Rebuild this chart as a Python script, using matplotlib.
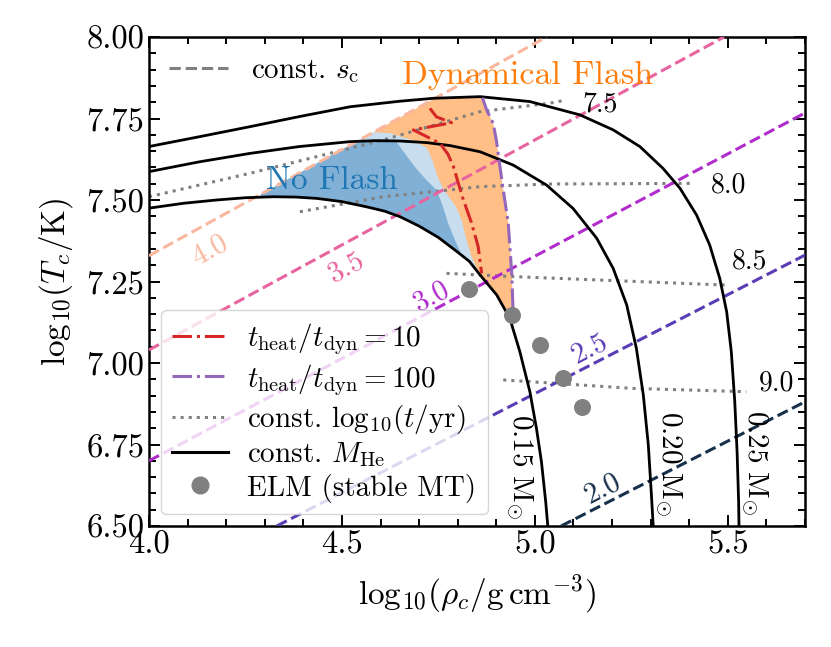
import numpy as np
import matplotlib
matplotlib.use("Agg")
import matplotlib.pyplot as plt
from matplotlib.lines import Line2D
from matplotlib.ticker import MultipleLocator, FormatStrFormatter

plt.rcParams['font.family'] = 'serif'
plt.rcParams['font.serif'] = ['cmr10']
plt.rcParams['mathtext.fontset'] = 'cm'
plt.rcParams['axes.formatter.use_mathtext'] = True

# ---------------- data ----------------
# constant He-core-mass tracks
m015_x = [4.0, 4.09, 4.175, 4.25, 4.322, 4.38, 4.434, 4.5, 4.564, 4.61, 4.65, 4.70, 4.75, 4.80, 4.83,
          4.858, 4.901, 4.935, 4.961, 4.987, 5.004, 5.017, 5.028, 5.034]
m015_y = [7.475, 7.49, 7.50, 7.507, 7.51, 7.509, 7.505, 7.495, 7.479, 7.466, 7.449, 7.42, 7.385, 7.34, 7.312,
          7.27, 7.209, 7.137, 7.035, 6.912, 6.80, 6.697, 6.575, 6.493]
m020_x = [4.0, 4.13, 4.262, 4.39, 4.521, 4.585, 4.65, 4.72, 4.78, 4.858, 4.944, 5.03, 5.099, 5.16, 5.203,
          5.238, 5.263, 5.281, 5.294, 5.302, 5.307]
m020_y = [7.587, 7.617, 7.643, 7.664, 7.679, 7.682, 7.681, 7.676, 7.667, 7.648, 7.607, 7.546, 7.474, 7.383, 7.29,
          7.178, 7.045, 6.902, 6.748, 6.595, 6.493]
m025_x = [4.0, 4.13, 4.262, 4.39, 4.521, 4.65, 4.737, 4.858, 4.987, 5.117, 5.203, 5.272, 5.332, 5.376, 5.419,
          5.453, 5.479, 5.497, 5.509, 5.518, 5.524, 5.528, 5.529]
m025_y = [7.664, 7.694, 7.725, 7.756, 7.786, 7.803, 7.812, 7.817, 7.802, 7.761, 7.715, 7.664, 7.597, 7.536, 7.454,
          7.362, 7.26, 7.157, 7.035, 6.881, 6.728, 6.575, 6.493]
mass_labels = ['0.15', '0.20', '0.25']
mass_label_x = [4.959, 5.345, 5.567]
mass_label_y = [6.682, 6.692, 6.696]

# constant log10(t/yr) lines
t75_x = [4.0, 4.262, 4.607, 4.858, 5.039, 5.082]
t75_y = [7.51, 7.582, 7.684, 7.771, 7.797, 7.807]
t80_x = [4.391, 4.607, 4.78, 4.858, 5.039, 5.402]
t80_y = [7.464, 7.51, 7.531, 7.541, 7.549, 7.551]
t85_x = [4.771, 4.858, 4.944, 5.497]
t85_y = [7.275, 7.27, 7.265, 7.239]
t90_x = [4.918, 5.255, 5.548]
t90_y = [6.948, 6.922, 6.912]
t_labels = ['7.5', '8.0', '8.5', '9.0']
t_label_x = [5.168, 5.501, 5.557, 5.626]
t_label_y = [7.794, 7.546, 7.311, 6.938]

# constant central entropy lines
sc_labels = ['4.0', '3.5', '3.0', '2.5', '2.0']
sc_x0 = [4.0, 4.0, 4.0, 4.331, 5.068]
sc_y0 = [7.329, 7.04, 6.70, 6.50, 6.50]
sc_x1 = [5.03, 5.49, 5.7, 5.7, 5.7]
sc_y1 = [8.0, 8.0, 7.767, 7.331, 6.881]
sc_colors = ['#f9b89e', '#e8649f', '#b02ccc', '#5a3db5', '#17304c']
sc_label_x = [4.158, 4.512, 4.733, 5.142, 5.175]
sc_label_y = [7.347, 7.295, 7.203, 7.045, 6.616]

# heating-time contours
heat10_x = [4.728, 4.745, 4.784, 4.685, 4.754, 4.775, 4.789, 4.812, 4.836, 4.853, 4.862]
heat10_y = [7.781, 7.755, 7.737, 7.715, 7.674, 7.64, 7.602, 7.51, 7.429, 7.357, 7.275]
heat100_x = [4.864, 4.875, 4.892, 4.900, 4.907, 4.918, 4.931, 4.940, 4.944]
heat100_y = [7.814, 7.776, 7.735, 7.684, 7.623, 7.531, 7.429, 7.275, 7.142]

# region boundaries
nof_edge_x = [4.814, 4.793, 4.775, 4.762, 4.745, 4.72, 4.69, 4.665, 4.642]
nof_edge_y = [7.321, 7.377, 7.429, 7.479, 7.531, 7.56, 7.60, 7.64, 7.677]
flash_edge_x = [4.857, 4.836, 4.823, 4.81, 4.795, 4.765, 4.748, 4.735, 4.72, 4.69, 4.625, 4.58]
flash_edge_y = [7.27, 7.326, 7.377, 7.44, 7.48, 7.53, 7.571, 7.62, 7.66, 7.68, 7.705, 7.708]
x_sc4_m015 = 4.29      # s_c = 4.0 line meets 0.15 track
x_sc4_m020 = 4.547     # s_c = 4.0 line meets 0.20 track
x_sc4_m025 = 4.743     # s_c = 4.0 line meets 0.25 track

# ELM white dwarfs
elm_x = [4.83, 4.94, 5.013, 5.073, 5.121]
elm_y = [7.227, 7.147, 7.055, 6.953, 6.866]

# ---------------- figure ----------------
fig = plt.figure(figsize=(8.31, 6.47), dpi=100)
ax = fig.add_axes([149/831, 1-526/647, 656/831, 489/647])


def sc4(x):
    return sc_y0[0] + (sc_y1[0]-sc_y0[0])/(sc_x1[0]-sc_x0[0])*(np.asarray(x)-sc_x0[0])


def track(xs, ys, xq):
    return np.interp(xq, xs, ys)


# dark blue "No Flash" region
xa = np.linspace(x_sc4_m015, x_sc4_m020, 20)
xb = np.linspace(x_sc4_m020, nof_edge_x[-1], 10)
xc = np.linspace(nof_edge_x[0], x_sc4_m015, 40)
dx = np.concatenate([xa, xb, nof_edge_x[::-1], xc])
dy = np.concatenate([sc4(xa), track(m020_x, m020_y, xb), nof_edge_y[::-1], track(m015_x, m015_y, xc)])

# full region (light blue base)
xt = np.linspace(x_sc4_m025, heat100_x[0], 10)
xl = np.linspace(heat100_x[-1], x_sc4_m015, 60)
xu = np.linspace(x_sc4_m015, x_sc4_m025, 30)
bx = np.concatenate([xu, xt, heat100_x, xl])
by = np.concatenate([sc4(xu), track(m025_x, m025_y, xt), heat100_y, track(m015_x, m015_y, xl)])

# orange "Dynamical Flash" region
xl2 = np.linspace(heat100_x[-1], flash_edge_x[0], 20)
xu2 = np.linspace(flash_edge_x[-1], x_sc4_m025, 10)
ox = np.concatenate([xt, heat100_x, xl2, flash_edge_x, xu2])
oy = np.concatenate([track(m025_x, m025_y, xt), heat100_y, track(m015_x, m015_y, xl2), flash_edge_y, sc4(xu2)])

ax.fill(bx, by, color='#c8ddee', lw=0, zorder=1)
ax.fill(ox, oy, color='#ffbf86', lw=0, zorder=1.1)
ax.fill(dx, dy, color='#80b0d5', lw=0, zorder=1.2)

ax.set_xlim(4.0, 5.7)
ax.set_ylim(6.5, 8.0)

# time lines
for xs, ys in [(t75_x, t75_y), (t80_x, t80_y), (t85_x, t85_y), (t90_x, t90_y)]:
    ax.plot(xs, ys, ls=':', color='gray', lw=2.2, zorder=2)
for s, x, y in zip(t_labels, t_label_x, t_label_y):
    ax.text(x, y, s, fontsize=20, ha='center', va='center', zorder=5)

# s_c lines
fig.canvas.draw()
for lab, x0, y0, x1, y1, c, lx, ly in zip(sc_labels, sc_x0, sc_y0, sc_x1, sc_y1, sc_colors, sc_label_x, sc_label_y):
    ax.plot([x0, x1], [y0, y1], ls='--', color=c, lw=2.2, zorder=3)
    p0 = ax.transData.transform((x0, y0))
    p1 = ax.transData.transform((x1, y1))
    ang = np.degrees(np.arctan2(p1[1]-p0[1], p1[0]-p0[0]))
    ax.text(lx, ly, lab, color=c, fontsize=21, rotation=ang, rotation_mode='anchor',
            ha='center', va='center', zorder=5)

# mass tracks
for xs, ys in [(m015_x, m015_y), (m020_x, m020_y), (m025_x, m025_y)]:
    ax.plot(xs, ys, color='black', lw=2.0, zorder=4)
for s, x, y in zip(mass_labels, mass_label_x, mass_label_y):
    ax.text(x, y, r'$%s\ \mathrm{M}_{\odot}$' % s, fontsize=21, rotation=-90,
            ha='center', va='center', zorder=5)

# heating contours
ax.plot(heat10_x, heat10_y, ls='-.', color='#d62728', lw=2.2, zorder=4.5)
ax.plot(heat100_x, heat100_y, ls='-.', color='#9467bd', lw=2.2, zorder=4.5)

# ELMs
ax.scatter(elm_x, elm_y, s=150, color='gray', zorder=6, lw=0)

ax.text(4.474, 7.561, 'No Flash', color='#1f77b4', fontsize=24, ha='center', va='center', zorder=5)
ax.text(4.982, 7.883, 'Dynamical Flash', color='#ff7f0e', fontsize=24.5, ha='center', va='center', zorder=5)

# axes styling
ax.xaxis.set_major_locator(MultipleLocator(0.5))
ax.xaxis.set_minor_locator(MultipleLocator(0.1))
ax.yaxis.set_major_locator(MultipleLocator(0.25))
ax.yaxis.set_minor_locator(MultipleLocator(0.05))
ax.xaxis.set_major_formatter(FormatStrFormatter('%.1f'))
ax.yaxis.set_major_formatter(FormatStrFormatter('%.2f'))
ax.tick_params(which='both', direction='in', top=True, right=True, labelsize=23.5, width=1.4)
ax.tick_params(which='major', length=8)
ax.tick_params(which='minor', length=5)
for sp in ax.spines.values():
    sp.set_linewidth(1.8)
ax.set_xlabel(r'$\mathrm{log}_{10}(\rho_c/\mathrm{g\,cm^{-3}})$', fontsize=24, labelpad=9)
ax.set_ylabel(r'$\mathrm{log}_{10}(T_c/\mathrm{K})$', fontsize=24, labelpad=8)

# legends
h_sc = [Line2D([], [], ls='--', color='gray', lw=2.2)]
leg1 = ax.legend(h_sc, [r'const. $s_{\rm c}$'], loc='upper left', frameon=False, fontsize=21,
                 borderaxespad=0.3)
ax.add_artist(leg1)
handles = [
    Line2D([], [], ls='-.', color='#d62728', lw=2.2),
    Line2D([], [], ls='-.', color='#9467bd', lw=2.2),
    Line2D([], [], ls=':', color='gray', lw=2.2),
    Line2D([], [], ls='-', color='black', lw=2.2),
    Line2D([], [], ls='', marker='o', color='gray', markersize=12),
]
labels = [r'$t_{\rm heat}/t_{\rm dyn} = 10$', r'$t_{\rm heat}/t_{\rm dyn} = 100$',
          r'const. $\mathrm{log}_{10}(t/{\rm yr})$', r'const. $M_{\rm He}$', 'ELM (stable MT)']
leg2 = ax.legend(handles, labels, loc='lower left', fontsize=21, framealpha=0.8,
                 labelspacing=0.15, borderaxespad=0.4, handlelength=1.9, handletextpad=0.65)
leg2.set_zorder(10)

fig.savefig('out.png', dpi=100)
